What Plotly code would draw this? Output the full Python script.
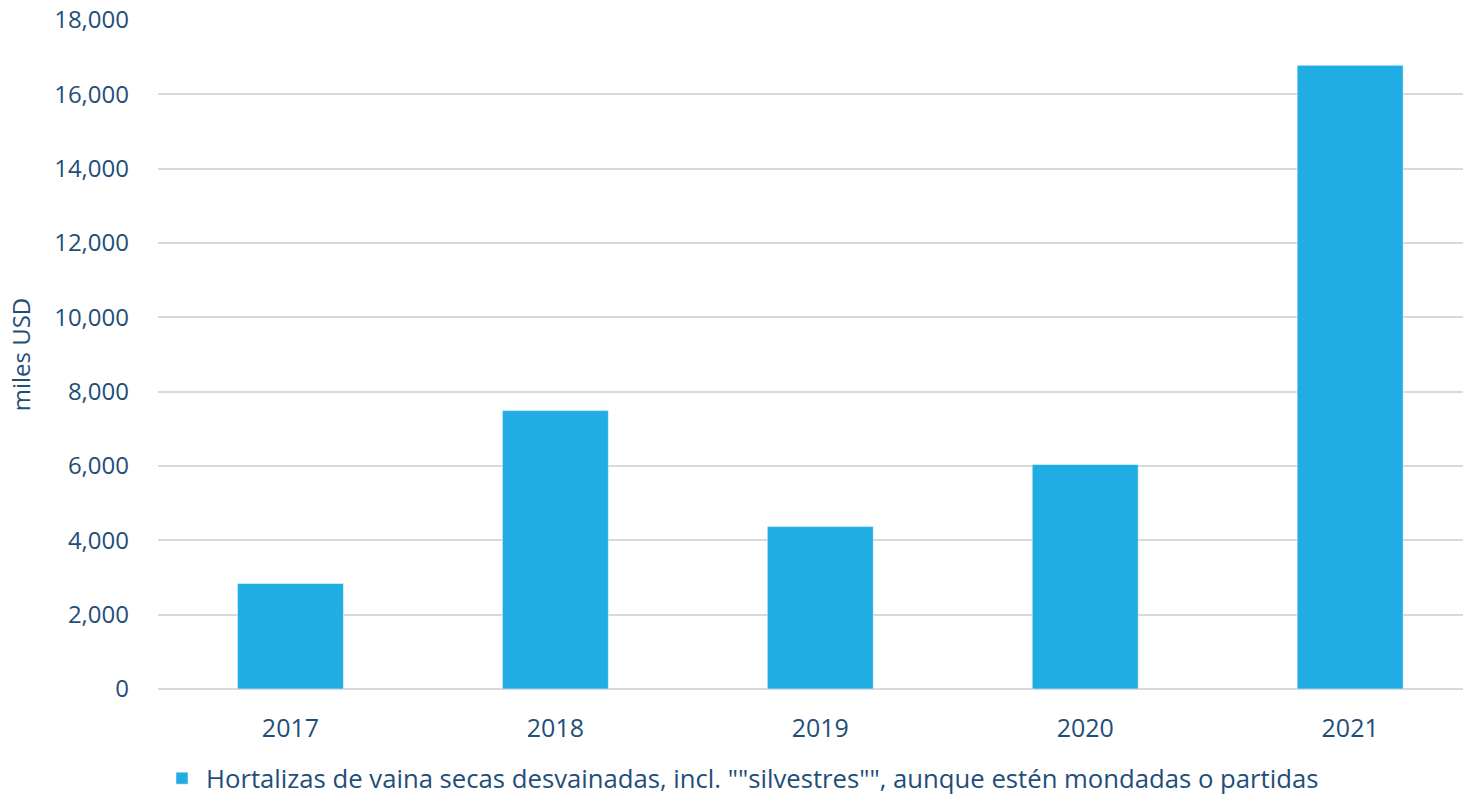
import plotly.graph_objects as go

years = ["2017", "2018", "2019", "2020", "2021"]
values = [2840, 7490, 4370, 6040, 16780]
series_name = 'Hortalizas de vaina secas desvainadas, incl. ""silvestres"", aunque estén mondadas o partidas'

TEXT_COLOR = "#1F4E79"
BAR_COLOR = "#1FADE4"

fig = go.Figure()
fig.add_trace(go.Bar(
    x=years,
    y=values,
    name=series_name,
    marker_color=BAR_COLOR,
    width=0.4,
    showlegend=True,
))

fig.update_layout(
    width=1463,
    height=802,
    template="plotly_white",
    plot_bgcolor="white",
    paper_bgcolor="white",
    font=dict(family="Open Sans, sans-serif", size=24, color=TEXT_COLOR),
    margin=dict(l=158, r=0, t=20, b=112),
    showlegend=True,
    legend=dict(
        orientation="h",
        x=0.0, xanchor="left",
        y=-0.133, yanchor="middle",
        font=dict(size=25.7, color=TEXT_COLOR),
        itemwidth=38,
    ),
    xaxis=dict(
        range=[-0.5, 4.426],
        showgrid=False,
        showline=False,
        ticks="",
        ticklabelstandoff=22,
        tickfont=dict(size=25, color=TEXT_COLOR),
    ),
    yaxis=dict(
        range=[0, 18000],
        dtick=2000,
        tickformat=",",
        showgrid=True,
        gridcolor="#D9D9D9",
        gridwidth=2,
        zeroline=True,
        zerolinecolor="#D9D9D9",
        zerolinewidth=2,
        ticks="",
        ticklabelstandoff=28,
        title=dict(text="miles USD", font=dict(size=24, color=TEXT_COLOR), standoff=16),
        tickfont=dict(size=24, color=TEXT_COLOR),
    ),
)

# drop the default 8px page margin so the figure sits at the window's corner
fig.write_html(
    "out.html",
    config={"displayModeBar": False},
    post_script="document.body.style.margin='0';",
)
